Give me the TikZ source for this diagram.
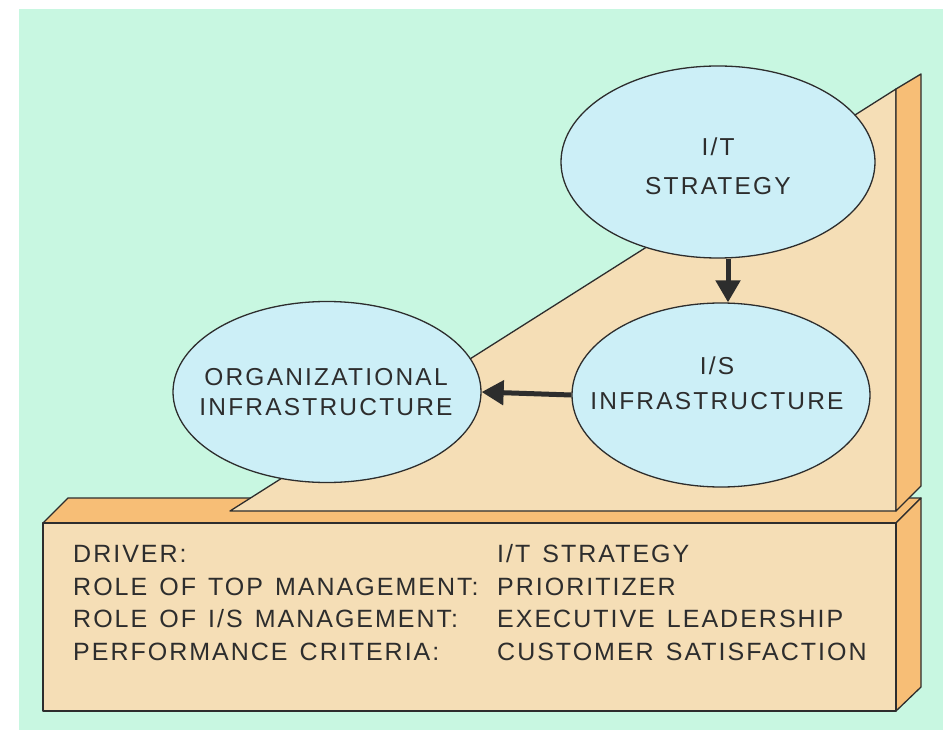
\documentclass[tikz,border=0pt]{standalone}
\usepackage{fontspec}
\setmainfont{Liberation Sans}
\newfontfamily\lblfont[LetterSpace=9]{Liberation Sans}
\newfontfamily\rowfont[LetterSpace=8,WordSpace=1.35]{Liberation Sans}
\usetikzlibrary{shapes.geometric,arrows.meta}
\definecolor{mint}{RGB}{200,247,225}
\definecolor{tan}{RGB}{245,222,182}
\definecolor{orng}{RGB}{247,190,118}
\definecolor{sky}{RGB}{204,239,247}
\definecolor{ink}{RGB}{45,45,45}
\tikzset{
  edge/.style={draw=ink,line width=1.3pt,line join=round},
  bubble/.style={ellipse,draw=ink,line width=1.3pt,fill=sky,inner sep=0pt},
  btxt/.style={inner sep=0pt,align=center,text=ink},
  arr/.style={draw=ink,line width=5pt,-{Triangle[length=22pt,width=24pt]}},
  txt/.style={anchor=base west,inner sep=0pt,text=ink,font=\rowfont\fontsize{25}{30}\selectfont}
}
\begin{document}
\begin{tikzpicture}[x=1pt,y=-1pt]
\useasboundingbox (0,0) rectangle (943,730);
\fill[white] (0,0) rectangle (943,730);
\fill[mint] (19,9) rectangle (943,730);
% base
\path[edge,fill=orng] (43,523) -- (68,498) -- (921,498) -- (896,523) -- cycle;
\path[edge,fill=orng] (896,523) -- (921,498) -- (921,687) -- (896,711) -- cycle;
\path[edge,fill=tan] (43,523) rectangle (896,711);
% wall
\path[edge,fill=tan] (230,511) -- (896,89) -- (896,511) -- cycle;
\path[edge,fill=orng] (896,89) -- (921,74) -- (921,486) -- (896,511) -- cycle;
% ellipses
\node[bubble,minimum width=314pt,minimum height=192pt] (it) at (718,162) {};
\node[bubble,minimum width=298pt,minimum height=184pt] (is) at (721,395) {};
\node[bubble,minimum width=308pt,minimum height=181pt] (org) at (327,392) {};
\node[btxt,font=\lblfont\fontsize{24.5}{39}\selectfont] (itt) at (718,166) {I/T\\STRATEGY};
\node[btxt,font=\lblfont\fontsize{24.5}{35}\selectfont] (ist) at (717,383) {I/S\\INFRASTRUCTURE};
\node[btxt,font=\lblfont\fontsize{24.5}{30}\selectfont] (orgt) at (326,392) {ORGANIZATIONAL\\INFRASTRUCTURE};
% arrows
\draw[arr] ([xshift=10pt]it.south) -- ([xshift=10pt]it.south |- is.north);
\draw[arr] (is.west) -- (org.east);
% text
\node[txt] (d1) at (73,562) {DRIVER:};
\node[txt] (d2) at (73,595) {ROLE OF TOP MANAGEMENT:};
\node[txt] (d3) at (73,627) {ROLE OF I/S MANAGEMENT:};
\node[txt] (d4) at (73,660) {PERFORMANCE CRITERIA:};
\node[txt] (v1) at (497,562) {I/T STRATEGY};
\node[txt] (v2) at (497,595) {PRIORITIZER};
\node[txt] (v3) at (497,627) {EXECUTIVE LEADERSHIP};
\node[txt] (v4) at (497,660) {CUSTOMER SATISFACTION};
\end{tikzpicture}
\end{document}
